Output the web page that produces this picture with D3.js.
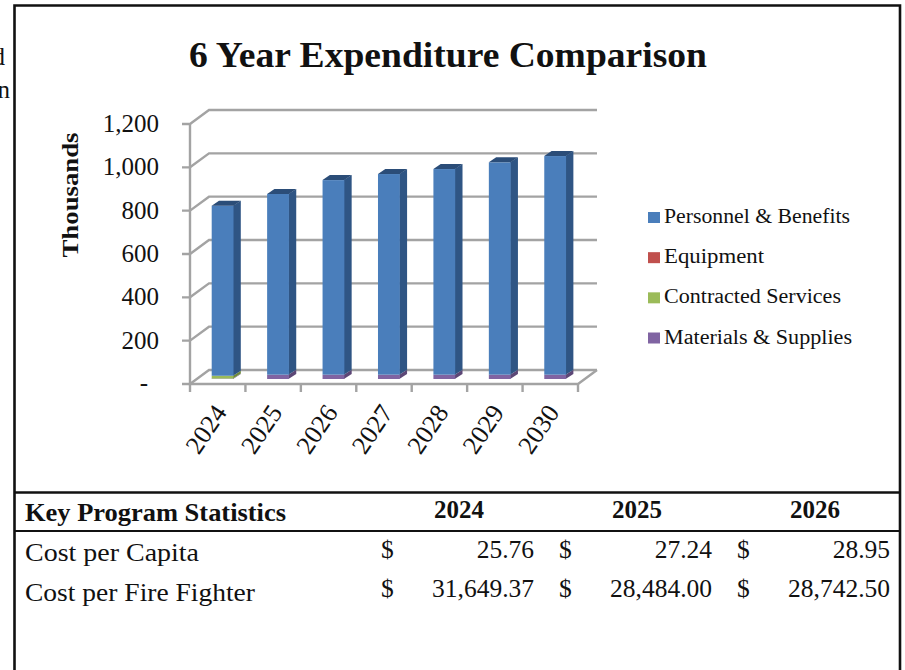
<!DOCTYPE html>
<html><head><meta charset="utf-8">
<style>html,body{margin:0;padding:0;background:#fff}svg{display:block}text{font-family:"Liberation Serif",serif;fill:#111}</style>
<script src="https://cdnjs.cloudflare.com/ajax/libs/d3/7.8.5/d3.min.js"></script>
</head><body><svg id="c" width="905" height="670"></svg>
<script>
const years = ["2024","2025","2026","2027","2028","2029","2030"];
const personnel = [785,834,898,926,949,980,1009];
const equipment = [0,0,0,0,0,0,0];
const contracted = [13,0,0,0,0,0,0];
const materials = [2,20,20,20,20,20,20];
const yTicks = [0,200,400,600,800,1000,1200];
const legendNames = ["Personnel & Benefits","Equipment","Contracted Services","Materials & Supplies"];
const statYears = ["2024","2025","2026"];
const costPerCapita = ["25.76","27.24","28.95"];
const costPerFighter = ["31,649.37","28,484.00","28,742.50"];

const svg = d3.select("#c");
const colors = {
  "Personnel & Benefits":["#4a7ebb","#2f5584","#2b4d78"],
  "Equipment":["#c0504d","#8c3836","#7f3230"],
  "Contracted Services":["#9bbb59","#6f8a3c","#64803a"],
  "Materials & Supplies":["#8064a2","#5c4776","#54406c"]
};
const rows = years.map((y,i)=>({year:y,"Personnel & Benefits":personnel[i],"Equipment":equipment[i],"Contracted Services":contracted[i],"Materials & Supplies":materials[i]}));
const stackOrder = ["Materials & Supplies","Contracted Services","Equipment","Personnel & Benefits"];
const series = d3.stack().keys(stackOrder)(rows);

const x = d3.scaleBand().domain(years).range([190,578]);
const y = d3.scaleLinear().domain([0,1200]).range([384,124]);
const wallDX = 19, wallDY = 14, grid = "#a3a3a3";
const barInset = 21.7, barW = 21.8, barDX = 7.3, barDY = 5, barLift = 5;

// walls and grid
const g = svg.append("g").attr("fill","none").attr("stroke",grid).attr("stroke-width",2.4);
yTicks.forEach(v=>{
  g.append("path").attr("d",`M${x.range()[0]-8},${y(v)}H${x.range()[0]}L${x.range()[0]+wallDX},${y(v)-wallDY}H${x.range()[1]+wallDX}`);
});
g.append("path").attr("d",`M${x.range()[0]},${y(1200)}V${y(0)}H${x.range()[1]}L${x.range()[1]+wallDX},${y(0)-wallDY}`);
years.concat(["end"]).forEach((d,i)=>{
  const px = x.range()[0]+i*x.step();
  g.append("path").attr("d",`M${px},${y(0)}V${y(0)+8}`);
});

// bars
const by = v => y(v)-barLift;
series.forEach(s=>{
  const c = colors[s.key];
  s.forEach(d=>{
    if(d[1]-d[0]<=0) return;
    const x0 = x(d.data.year)+barInset, x1 = x0+barW;
    const t = by(d[1]), b = by(d[0]);
    svg.append("path").attr("fill",c[1]).attr("d",`M${x1-0.5},${t}L${x1+barDX},${t-barDY}V${b-barDY}L${x1-0.5},${b}Z`);
    svg.append("rect").attr("fill",c[0]).attr("x",x0).attr("y",t).attr("width",barW).attr("height",b-t);
    if(s.key===stackOrder[3]) svg.append("path").attr("fill",c[2]).attr("d",`M${x0},${t}L${x0+barDX},${t-barDY}H${x1+barDX}L${x1},${t}Z`);
  });
});

// tick labels
const fmt = d3.format(",");
yTicks.forEach(v=>{
  svg.append("text").attr("x",v===0?148:159).attr("y",y(v)+(v===0?7:8)).attr("text-anchor","end").attr("font-size",25).text(v===0?"-":fmt(v));
});
years.forEach(d=>{
  const cx = x(d)+x.step()/2-20, cy = 429;
  svg.append("text").attr("transform",`translate(${cx+8},${cy}) rotate(-56)`).attr("text-anchor","middle").attr("dy","0.35em").attr("font-size",26).text(d);
});
svg.append("text").attr("transform","translate(78,195) rotate(-90)").attr("text-anchor","middle").attr("font-size",23).attr("font-weight","bold").attr("textLength",125).attr("lengthAdjust","spacingAndGlyphs").text("Thousands");

// title
svg.append("text").attr("x",189).attr("y",67).attr("font-size",36).attr("font-weight","bold").attr("textLength",518).attr("lengthAdjust","spacingAndGlyphs").text("6 Year Expenditure Comparison");

// legend
const legendY = d3.scalePoint().domain(legendNames).range([217.5,338]);
const legendWidths = [186,100,177,188];
legendNames.forEach((n,i)=>{
  svg.append("rect").attr("x",648).attr("y",legendY(n)-5.5).attr("width",12).attr("height",11).attr("fill",colors[n][0]);
  svg.append("text").attr("x",664).attr("y",legendY(n)+5.5).attr("font-size",20.5).attr("textLength",legendWidths[i]).attr("lengthAdjust","spacingAndGlyphs").text(n);
});

// frame
const f = svg.append("g").attr("stroke","#111").attr("fill","none");
f.append("path").attr("stroke-width",2.6).attr("d","M14.5,670V5.5H900V670");
f.append("path").attr("stroke-width",2.4).attr("d","M14.5,492.5H900");
f.append("path").attr("stroke-width",2.2).attr("d","M14.5,531H900");

// clipped neighbour text
svg.append("text").attr("x",5).attr("y",65).attr("text-anchor","end").attr("font-size",25).text("d");
svg.append("text").attr("x",10).attr("y",98).attr("text-anchor","end").attr("font-size",25).text("n");

// table
const colRight = [534,712,890], colDollar = [381,559,737], colHead = [434,612,790];
svg.append("text").attr("x",25).attr("y",521).attr("font-size",26).attr("font-weight","bold").attr("textLength",261).attr("lengthAdjust","spacingAndGlyphs").text("Key Program Statistics");
svg.append("text").attr("x",25).attr("y",561).attr("font-size",26).attr("textLength",174).attr("lengthAdjust","spacingAndGlyphs").text("Cost per Capita");
svg.append("text").attr("x",25).attr("y",601).attr("font-size",26).attr("textLength",230).attr("lengthAdjust","spacingAndGlyphs").text("Cost per Fire Fighter");
statYears.forEach((s,i)=>{
  svg.append("text").attr("x",colHead[i]).attr("y",518).attr("font-size",25).attr("font-weight","bold").text(s);
  [[costPerCapita,558],[costPerFighter,597]].forEach(([arr,by])=>{
    svg.append("text").attr("x",colDollar[i]).attr("y",by).attr("font-size",25.5).text("$");
    svg.append("text").attr("x",colRight[i]).attr("y",by).attr("text-anchor","end").attr("font-size",25.5).text(arr[i]);
  });
});
</script></body></html>
